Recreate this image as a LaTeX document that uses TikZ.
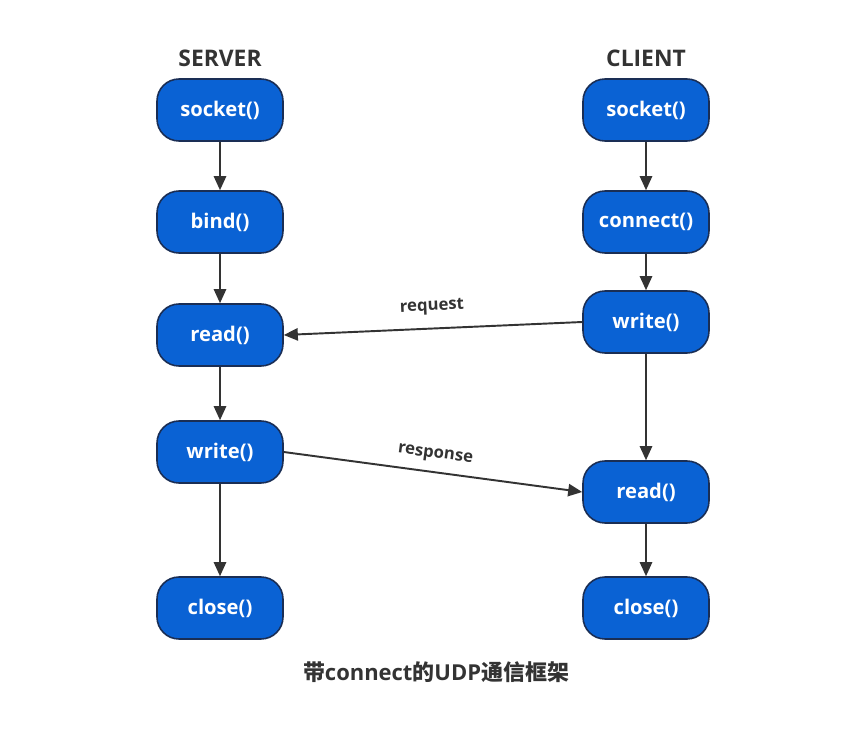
\documentclass[tikz,border=0pt]{standalone}
\usepackage{fontspec}
\setsansfont{Open Sans}
\newfontfamily\cjk{Noto Sans CJK SC}
\usetikzlibrary{positioning, arrows.meta, calc}

\definecolor{callblue}{HTML}{0A62D4}
\definecolor{calledge}{HTML}{1A2E55}
\definecolor{flowgray}{HTML}{333333}
\definecolor{titlegray}{HTML}{333333}

\begin{document}
\begin{tikzpicture}[x=0.02cm, y=-0.02cm,
    call/.style={draw=calledge, fill=callblue, line width=0.9pt,
        rounded corners=0.44cm, minimum width=2.52cm, minimum height=1.24cm,
        text=white, font=\sffamily\bfseries\fontsize{11.5}{13}\selectfont},
    side/.style={text=titlegray, font=\sffamily\bfseries\fontsize{13}{15}\selectfont},
    flow/.style={draw=flowgray, line width=1.1pt, -{Triangle[length=8pt,width=7pt]}},
    msg/.style={text=flowgray, font=\sffamily\bfseries\fontsize{9.5}{11}\selectfont}]

    \useasboundingbox (0,0) rectangle (861,737);

    % --- column titles ---
    \node[side] (srvtitle) at (220,58) {SERVER};
    \node[side] (clititle) at (646,58) {CLIENT};

    % --- server side ---
    \node[call] (ssocket) at (220,110) {socket()};
    \node[call] (sbind)   at (220,222) {bind()};
    \node[call] (sread)   at (220,335) {read()};
    \node[call] (swrite)  at (220,452) {write()};
    \node[call] (sclose)  at (220,608) {close()};

    % --- client side ---
    \node[call] (csocket)  at (646,110) {socket()};
    \node[call] (cconnect) at (646,222) {connect()};
    \node[call] (cwrite)   at (646,322) {write()};
    \node[call] (cread)    at (646,492) {read()};
    \node[call] (cclose)   at (646,608) {close()};

    % --- vertical flow ---
    \draw[flow] (ssocket) -- (sbind);
    \draw[flow] (sbind)   -- (sread);
    \draw[flow] (sread)   -- (swrite);
    \draw[flow] (swrite)  -- (sclose);

    \draw[flow] (csocket)  -- (cconnect);
    \draw[flow] (cconnect) -- (cwrite);
    \draw[flow] (cwrite)   -- (cread);
    \draw[flow] (cread)    -- (cclose);

    % --- messages between the two sides ---
    \draw[flow] (cwrite.west) -- node[msg, sloped, above=4pt] {request} (sread.east);
    \draw[flow] (swrite.east) -- node[msg, sloped, above=2pt] {response} (cread.west);

    % --- caption ---
    \node[text=titlegray, font=\bfseries\fontsize{12.5}{15}\selectfont] (caption) at (436,672)
        {{\cjk 带}\sffamily connect{\cjk 的}UDP{\cjk 通信框架}};

\end{tikzpicture}
\end{document}
